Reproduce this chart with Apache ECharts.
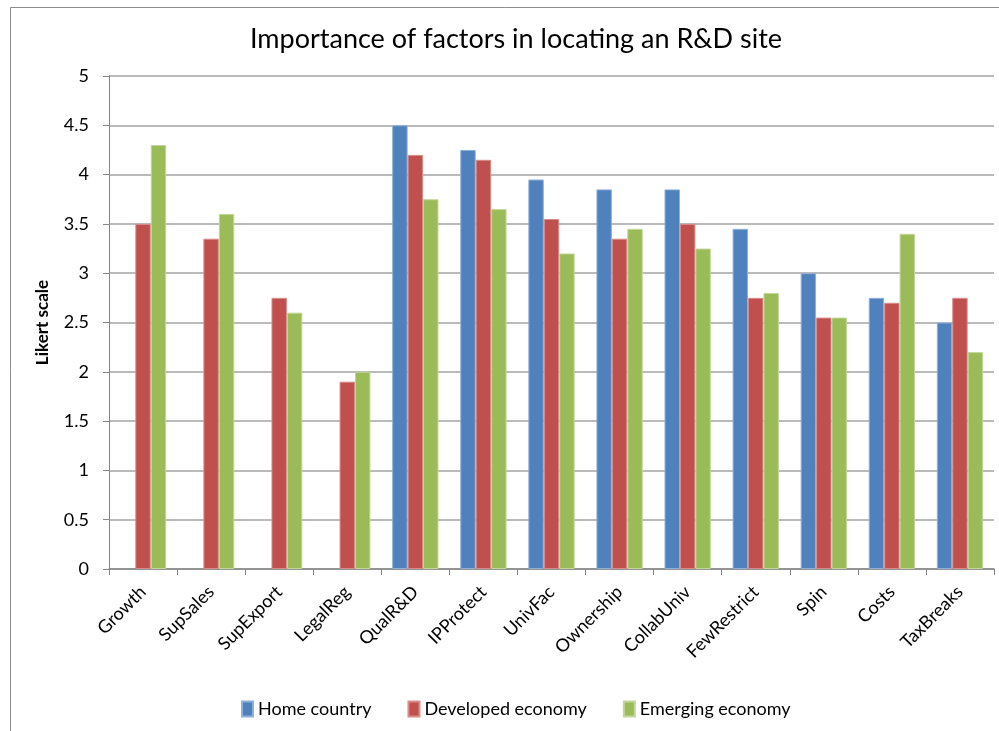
<!DOCTYPE html>
<html>
<head>
<meta charset="utf-8">
<script src="https://cdn.jsdelivr.net/npm/echarts@6/dist/echarts.min.js"></script>
<style>
    html, body { margin: 0; padding: 0; background: #fff; }
    #chart { width: 999px; height: 731px; }
</style>
</head>
<body>
<div id="chart"></div>
<script>
    const categories = ['Growth', 'SupSales', 'SupExport', 'LegalReg', 'QualR&D', 'IPProtect', 'UnivFac',
        'Ownership', 'CollabUniv', 'FewRestrict', 'Spin', 'Costs', 'TaxBreaks'];
    const homeCountry = ['-', '-', '-', '-', 4.5, 4.25, 3.95, 3.85, 3.85, 3.45, 3.0, 2.75, 2.5];
    const developedEconomy = [3.5, 3.35, 2.75, 1.9, 4.2, 4.15, 3.55, 3.35, 3.5, 2.75, 2.55, 2.7, 2.75];
    const emergingEconomy = [4.3, 3.6, 2.6, 2.0, 3.75, 3.65, 3.2, 3.45, 3.25, 2.8, 2.55, 3.4, 2.2];

    const font = 'Lato, "Open Sans", sans-serif';
    const chart = echarts.init(document.getElementById('chart'));

    function bar(name, data, color, border) {
        return {
            name: name,
            type: 'bar',
            data: data,
            barGap: '0%',
            barCategoryGap: '32%',
            itemStyle: { color: color, borderColor: border, borderWidth: 1 }
        };
    }

    chart.setOption({
        animation: false,
        graphic: [{
            type: 'rect',
            shape: { x: 10.5, y: 7.5, width: 1000, height: 740 },
            style: { fill: 'none', stroke: '#8c8c8c', lineWidth: 1 }
        }],
        title: {
            text: 'Importance of factors in locating an R&D site',
            left: 511,
            top: 21,
            textAlign: 'center',
            textStyle: { fontFamily: font, fontSize: 27, fontWeight: 'normal', color: '#000' }
        },
        legend: {
            top: 695,
            left: 236,
            itemWidth: 11,
            itemHeight: 15,
            itemGap: 36,
            icon: 'rect',
            textStyle: { fontFamily: font, fontSize: 18, color: '#000' },
            data: ['Home country', 'Developed economy', 'Emerging economy']
        },
        grid: { left: 109, right: 5, top: 76, bottom: 162 },
        xAxis: {
            type: 'category',
            data: categories,
            axisLine: { lineStyle: { color: '#868686', width: 1.5 } },
            axisTick: { show: true, length: 6, lineStyle: { color: '#868686' } },
            axisLabel: {
                rotate: 45,
                interval: 0,
                margin: 20,
                fontFamily: font,
                fontSize: 18,
                color: '#000'
            }
        },
        yAxis: {
            type: 'value',
            min: 0,
            max: 5,
            interval: 0.5,
            name: 'Likert scale',
            nameLocation: 'middle',
            nameGap: 58,
            nameTextStyle: { fontFamily: font, fontSize: 17, fontWeight: 'bold', color: '#000' },
            axisLine: { show: true, lineStyle: { color: '#868686' } },
            axisTick: { show: true, length: 6, lineStyle: { color: '#868686' } },
            axisLabel: { fontFamily: font, fontSize: 18, color: '#000', margin: 20 },
            splitLine: { lineStyle: { color: '#a3a3a3', width: 1.5 } }
        },
        series: [
            bar('Home country', homeCountry, '#4F81BD', '#8fb0d8'),
            bar('Developed economy', developedEconomy, '#C0504D', '#d98c8a'),
            bar('Emerging economy', emergingEconomy, '#9BBB59', '#c3d69b')
        ]
    });
</script>
</body>
</html>
